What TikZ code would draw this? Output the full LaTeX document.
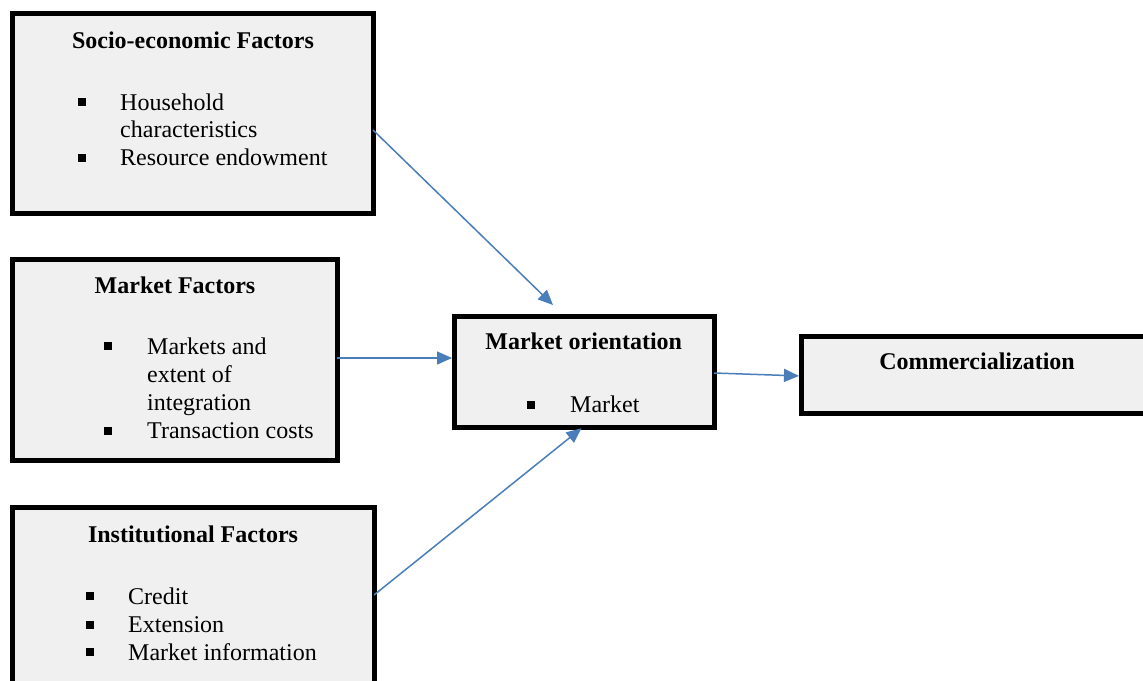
\documentclass[tikz,border=0pt]{standalone}
\usepackage{fontspec}
\setmainfont{Liberation Serif}
\usetikzlibrary{arrows.meta,calc}
\definecolor{boxfill}{HTML}{F0F0F0}
\definecolor{arrowblue}{HTML}{4A7EBB}
\begin{document}
\begin{tikzpicture}[x=1pt,y=-1pt,
  box/.style={draw=black,fill=boxfill,line width=5pt,rectangle,inner sep=0pt,outer sep=0pt},
  title/.style={anchor=base,inner sep=0pt,font=\fontsize{24}{27.6}\selectfont\bfseries},
  item/.style={anchor=base west,inner sep=0pt,font=\fontsize{24}{27.6}\selectfont},
  bul/.style={fill=black,inner sep=0pt,minimum size=8pt,rectangle},
  arr/.style={draw=arrowblue,line width=1.5pt,-{Triangle[length=15pt,width=13pt]}}]
\clip (0,0) rectangle (1143,680);
\fill[white] (0,0) rectangle (1143,680);
% boxes
\node[box,minimum width=361pt,minimum height=200pt] (se) at (192.5,113) {};
\node[box,minimum width=325pt,minimum height=201pt] (mf) at (174.5,359.5) {};
\node[box,minimum width=362pt,minimum height=193pt] (inst) at (193,603.5) {};
\node[box,minimum width=260pt,minimum height=111pt] (mo) at (584,371.5) {};
\node[box,minimum width=359pt,minimum height=77pt] (co) at (980.5,374.5) {};
% socio-economic
\node[title] (set) at (193,48.5) {Socio-economic Factors};
\node[bul] (seb1) at (82,102) {};
\node[item] (sei1) at (120,110.2) {Household};
\node[item] (sei2) at (120,137.8) {characteristics};
\node[bul] (seb2) at (82,157.5) {};
\node[item] (sei3) at (120,165.4) {Resource endowment};
% market factors
\node[title] (mft) at (175,293.5) {Market Factors};
\node[bul] (mfb1) at (108,346) {};
\node[item] (mfi1) at (147,354) {Markets and};
\node[item] (mfi2) at (147,382.2) {extent of};
\node[item] (mfi3) at (147,410.4) {integration};
\node[bul] (mfb2) at (108,430.6) {};
\node[item] (mfi4) at (147,438.6) {Transaction costs};
% institutional
\node[title] (int) at (193,542.6) {Institutional Factors};
\node[bul] (inb1) at (90.3,596.2) {};
\node[item] (ini1) at (128,604.2) {Credit};
\node[bul] (inb2) at (90.3,624.6) {};
\node[item] (ini2) at (128,632.6) {Extension};
\node[bul] (inb3) at (90.3,652.2) {};
\node[item] (ini3) at (128,660.2) {Market information};
% market orientation
\node[title] (mot) at (583.7,349.2) {Market orientation};
\node[bul] (mob1) at (531,404.6) {};
\node[item] (moi1) at (570,412.6) {Market};
% commercialization
\node[title] (cot) at (977,369.5) {Commercialization};
% arrows
\draw[arr] ([yshift=-17pt]se.east) -- ([xshift=-31pt,yshift=11pt]mo.north);
\draw[arr,shorten >=2pt] ([yshift=1.5pt]mf.east) -- ([yshift=1.5pt]mf.east -| mo.west);
\draw[arr,shorten >=2pt] ([yshift=8.5pt]inst.east) -- ([xshift=-1pt]mo.south);
\draw[arr,shorten >=2pt] ([yshift=-1.5pt]mo.east) -- ([yshift=-1.5pt]co.west);
\end{tikzpicture}
\end{document}
